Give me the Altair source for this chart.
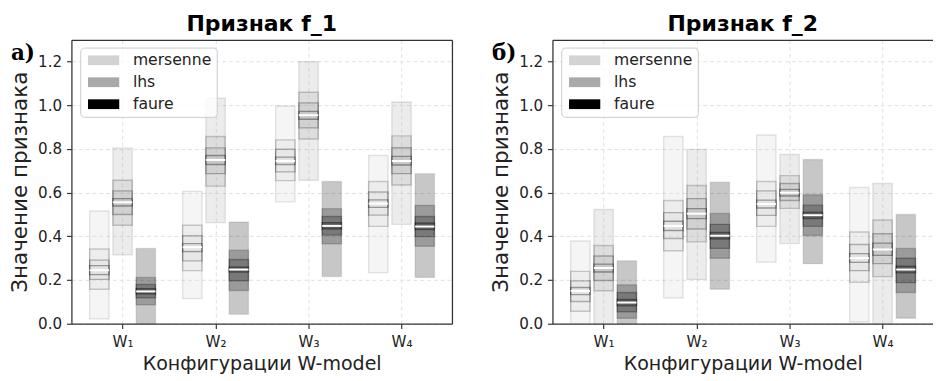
import altair as alt
import pandas as pd

configs = ["W₁", "W₂", "W₃", "W₄"]
series = ["mersenne", "lhs", "faure"]
series_colors = ["#d3d3d3", "#a9a9a9", "#000000"]
features = ["Признак f_1", "Признак f_2"]
panel_tags = ["а)", "б)"]
y_ticks = [0.0, 0.2, 0.4, 0.6, 0.8, 1.0, 1.2]

# per configuration: [outer_lo, outer_hi, l1_lo, l1_hi, l2_lo, l2_hi, l3_lo, l3_hi]
f1_mersenne = [
    [0.022, 0.516, 0.158, 0.342, 0.203, 0.291, 0.225, 0.266],
    [0.115, 0.606, 0.243, 0.451, 0.288, 0.403, 0.330, 0.367],
    [0.558, 0.997, 0.655, 0.842, 0.695, 0.799, 0.729, 0.763],
    [0.234, 0.770, 0.446, 0.651, 0.497, 0.603, 0.533, 0.567],
]
f1_lhs = [
    [0.315, 0.805, 0.451, 0.657, 0.500, 0.608, 0.539, 0.573],
    [0.463, 1.033, 0.630, 0.857, 0.687, 0.805, 0.729, 0.770],
    [0.657, 1.200, 0.846, 1.060, 0.897, 1.011, 0.936, 0.972],
    [0.455, 1.015, 0.635, 0.860, 0.687, 0.806, 0.727, 0.766],
]
f1_faure = [
    [0.000, 0.345, 0.087, 0.212, 0.119, 0.180, 0.136, 0.161],
    [0.043, 0.466, 0.152, 0.337, 0.196, 0.294, 0.236, 0.260],
    [0.216, 0.651, 0.366, 0.527, 0.406, 0.491, 0.434, 0.463],
    [0.212, 0.687, 0.355, 0.542, 0.399, 0.491, 0.431, 0.461],
]
f2_mersenne = [
    [0.000, 0.379, 0.057, 0.240, 0.102, 0.196, 0.133, 0.166],
    [0.118, 0.857, 0.334, 0.564, 0.390, 0.509, 0.427, 0.469],
    [0.282, 0.864, 0.446, 0.651, 0.496, 0.608, 0.530, 0.566],
    [0.008, 0.624, 0.190, 0.420, 0.243, 0.363, 0.281, 0.321],
]
f2_lhs = [
    [0.000, 0.523, 0.151, 0.358, 0.198, 0.310, 0.237, 0.273],
    [0.203, 0.798, 0.375, 0.633, 0.434, 0.573, 0.481, 0.527],
    [0.367, 0.775, 0.528, 0.678, 0.564, 0.642, 0.585, 0.615],
    [0.000, 0.642, 0.216, 0.475, 0.275, 0.412, 0.313, 0.369],
]
f2_faure = [
    [0.000, 0.288, 0.025, 0.178, 0.055, 0.143, 0.082, 0.111],
    [0.158, 0.648, 0.300, 0.505, 0.345, 0.455, 0.388, 0.418],
    [0.275, 0.752, 0.404, 0.590, 0.446, 0.543, 0.482, 0.511],
    [0.025, 0.500, 0.143, 0.345, 0.188, 0.300, 0.233, 0.264],
]
f1_medians = {
    "mersenne": [0.245, 0.350, 0.745, 0.550],
    "lhs": [0.556, 0.750, 0.955, 0.745],
    "faure": [0.148, 0.248, 0.448, 0.445],
}
f2_medians = {
    "mersenne": [0.150, 0.448, 0.548, 0.300],
    "lhs": [0.255, 0.504, 0.600, 0.340],
    "faure": [0.097, 0.403, 0.497, 0.248],
}

boxes_by_feature = [
    {"mersenne": f1_mersenne, "lhs": f1_lhs, "faure": f1_faure},
    {"mersenne": f2_mersenne, "lhs": f2_lhs, "faure": f2_faure},
]
medians_by_feature = [f1_medians, f2_medians]

offsets = {"mersenne": -0.25, "lhs": 0.0, "faure": 0.25}
half_w = 0.104

box_rows, med_rows = [], []
for fi, feat in enumerate(features):
    for s in series:
        for wi, vals in enumerate(boxes_by_feature[fi][s]):
            c = wi + offsets[s]
            for lvl in range(4):
                box_rows.append(dict(feature=feat, series=s, cfg=wi, level=lvl,
                                     lo=vals[2 * lvl], hi=vals[2 * lvl + 1],
                                     x=c - half_w, x2=c + half_w))
            med_rows.append(dict(feature=feat, series=s, cfg=wi,
                                 med=medians_by_feature[fi][s][wi],
                                 x=c - half_w, x2=c + half_w))
boxes_df = pd.DataFrame(box_rows)
med_df = pd.DataFrame(med_rows)

label_expr = "[" + ",".join("'%s'" % c for c in configs) + "][datum.value]"
PX_PER_UNIT = 95.3
PLOT_H = 291


def panel(fi, width, right_spine):
    feat = features[fi]
    bd = boxes_df[boxes_df.feature == feat]
    md = med_df[med_df.feature == feat]
    xs = alt.Scale(domain=[-0.55, -0.55 + width / PX_PER_UNIT], nice=False, zero=False)
    ys = alt.Scale(domain=[0, 1.3], nice=False, zero=False)

    boxes = alt.Chart(bd).mark_rect(fillOpacity=0.22, stroke="black", strokeWidth=1.4, clip=True).encode(
        x=alt.X("x:Q", scale=xs, axis=alt.Axis(values=[0, 1, 2, 3], labelExpr=label_expr,
                                                title="Конфигурации W-model", grid=True,
                                                labelPadding=6, titlePadding=5,
                                                titleFontSize=19.5)),
        x2="x2:Q",
        y=alt.Y("lo:Q", scale=ys, axis=alt.Axis(values=y_ticks, format=".1f",
                                                 title="Значение признака", grid=True,
                                                 labelPadding=5, titlePadding=6,
                                                 titleFontSize=22)),
        y2="hi:Q",
        fill=alt.Fill("series:N", scale=alt.Scale(domain=series, range=series_colors),
                      legend=alt.Legend(title=None, orient="none", legendX=9, legendY=8,
                                        symbolType="M-1,-1H5.4V1H-1Z", symbolSize=100,
                                        symbolStrokeWidth=0, symbolOpacity=1,
                                        labelOffset=33, labelFontSize=16, labelFont="DejaVu Sans",
                                        labelColor="#222", fillColor="rgba(255,255,255,0.8)",
                                        strokeColor="#cccccc", cornerRadius=4,
                                        padding=5, rowPadding=6.5)),
        strokeOpacity=alt.StrokeOpacity("level:O", scale=alt.Scale(domain=[0, 1, 2, 3],
                                                                   range=[0.1, 0.35, 0.5, 0.65]),
                                        legend=None),
    )
    meds = alt.Chart(md).mark_rule(color="white", strokeWidth=2).encode(
        x=alt.X("x:Q", axis=None),
        x2="x2:Q",
        y=alt.Y("med:Q", axis=None),
    )
    top = alt.Chart(md).mark_rule(opacity=0).encode(
        x=alt.X("x:Q", axis=alt.Axis(orient="top", labels=False, ticks=False, grid=False,
                                     title=None, domain=True)),
    )
    tag = alt.Chart(pd.DataFrame({"tag": [panel_tags[fi]]})).mark_text(
        font="DejaVu Serif", fontSize=22, fontWeight="bold", align="left",
        baseline="alphabetic", color="black").encode(
        text="tag:N", x=alt.value(-62), y=alt.value(21))
    layers = [boxes, meds, top, tag]
    if right_spine:
        right = alt.Chart(md).mark_rule(opacity=0).encode(
            y=alt.Y("med:Q", axis=alt.Axis(orient="right", labels=False, ticks=False, grid=False,
                                           title=None, domain=True, minExtent=0)),
        )
        layers.append(right)
    ch = alt.layer(*layers).resolve_axis(x="independent", y="independent").properties(
        width=width, height=PLOT_H, title=alt.Title(feat, offset=5, frame="group"))
    return ch


left = panel(0, 390, True)
right = panel(1, 390, False)

chart = alt.hconcat(left, right, spacing=39).resolve_scale(
    x="independent", y="independent", fill="independent").resolve_legend(
    fill="independent").properties(
    padding={"left": 1, "top": 0, "right": 0, "bottom": 0}
).configure_view(stroke=None).configure_axis(
    labelFont="DejaVu Sans", labelFontSize=15.5, labelColor="#222",
    titleFont="DejaVu Sans", titleFontWeight="normal", titleColor="#222",
    domainColor="#333", domainWidth=1.3, tickColor="#333", tickSize=5, tickWidth=1.2,
    gridColor="#e0e0e0", gridDash=[4, 3], gridWidth=1,
).configure_title(
    font="DejaVu Sans", fontSize=22.5, fontWeight="bold", color="black", anchor="middle"
)

chart.save("out.html", embed_options={"renderer": "svg", "actions": False})
